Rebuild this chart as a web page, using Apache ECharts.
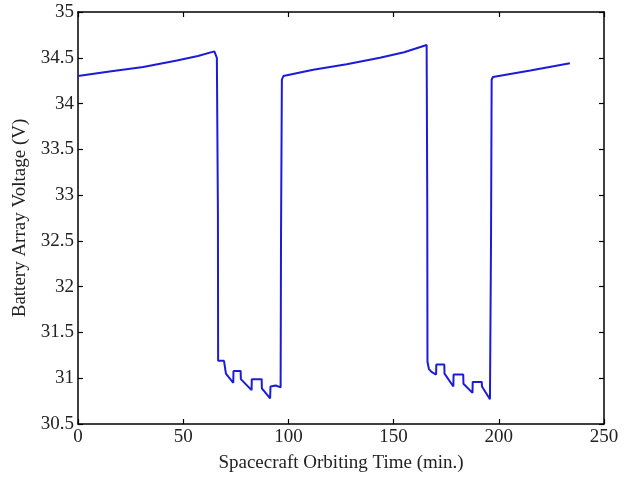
<!DOCTYPE html>
<html>
<head>
<meta charset="utf-8">
<script src="https://cdn.jsdelivr.net/npm/echarts@6/dist/echarts.min.js"></script>
<style>html,body{margin:0;padding:0;background:#fff}#c{width:634px;height:477px}</style>
</head>
<body>
<div id="c"></div>
<script>
const timeMin = [0,15,31,47,57,64.8,65.6,66.0,66.5,66.6,69.4,70.3,73.8,73.9,77.3,77.4,82.5,82.6,87.3,87.4,91.3,91.5,94,96.3,96.5,96.9,97.6,111.8,127.7,143.5,155,165.7,166.0,166.1,166.8,168,170.2,170.3,174.1,174.2,178.4,178.5,183.1,183.2,187.5,187.6,191.9,192.0,195.8,196.2,196.3,196.6,197.2,215,233.8];
const voltage = [34.30,34.35,34.40,34.47,34.52,34.57,34.55,34.50,32.8,31.19,31.19,31.05,30.95,31.08,31.08,30.99,30.87,30.99,30.99,30.89,30.78,30.91,30.92,30.90,32.6,34.26,34.30,34.37,34.43,34.50,34.56,34.64,32.9,31.18,31.10,31.07,31.04,31.15,31.15,31.05,30.91,31.04,31.04,30.94,30.84,30.96,30.96,30.91,30.77,30.76,32.5,34.26,34.29,34.36,34.44];
const xTicks = [0,50,100,150,200,250];
const yTicks = [30.5,31,31.5,32,32.5,33,33.5,34,34.5,35];

const font = 'Liberation Serif';
const axisCommon = {
  axisLine:{show:true,onZero:false,lineStyle:{color:'#000',width:1.5}},
  axisTick:{show:true,inside:true,length:5,lineStyle:{color:'#000',width:1.2}},
  splitLine:{show:false}
};
const chart = echarts.init(document.getElementById('c'));
chart.setOption({
  animation:false,
  backgroundColor:'#fff',
  grid:{left:78,right:30,top:12,bottom:53,containLabel:false,outerBoundsMode:'none'},
  xAxis:[
    Object.assign({type:'value',position:'bottom',min:xTicks[0],max:xTicks[xTicks.length-1],interval:50,
      name:'Spacecraft Orbiting Time (min.)',nameLocation:'middle',nameGap:30,
      nameTextStyle:{fontFamily:font,fontSize:19,color:'#222'},
      axisLabel:{fontFamily:font,fontSize:19,color:'#222',margin:4}},axisCommon),
    Object.assign({type:'value',position:'top',min:0,max:250,interval:50,axisLabel:{show:false}},axisCommon)
  ],
  yAxis:[
    Object.assign({type:'value',position:'left',min:yTicks[0],max:yTicks[yTicks.length-1],interval:0.5,
      name:'Battery Array Voltage (V)',nameLocation:'middle',nameGap:48,
      nameTextStyle:{fontFamily:font,fontSize:19,color:'#222'},
      axisLabel:{fontFamily:font,fontSize:19,color:'#222',margin:4}},axisCommon),
    Object.assign({type:'value',position:'right',min:30.5,max:35,interval:0.5,axisLabel:{show:false}},axisCommon)
  ],
  series:[{
    type:'line',
    data:timeMin.map((t,i)=>[t,voltage[i]]),
    showSymbol:false,
    lineStyle:{color:'#1c1cd8',width:2},
    xAxisIndex:0,yAxisIndex:0
  }]
});
</script>
</body>
</html>
